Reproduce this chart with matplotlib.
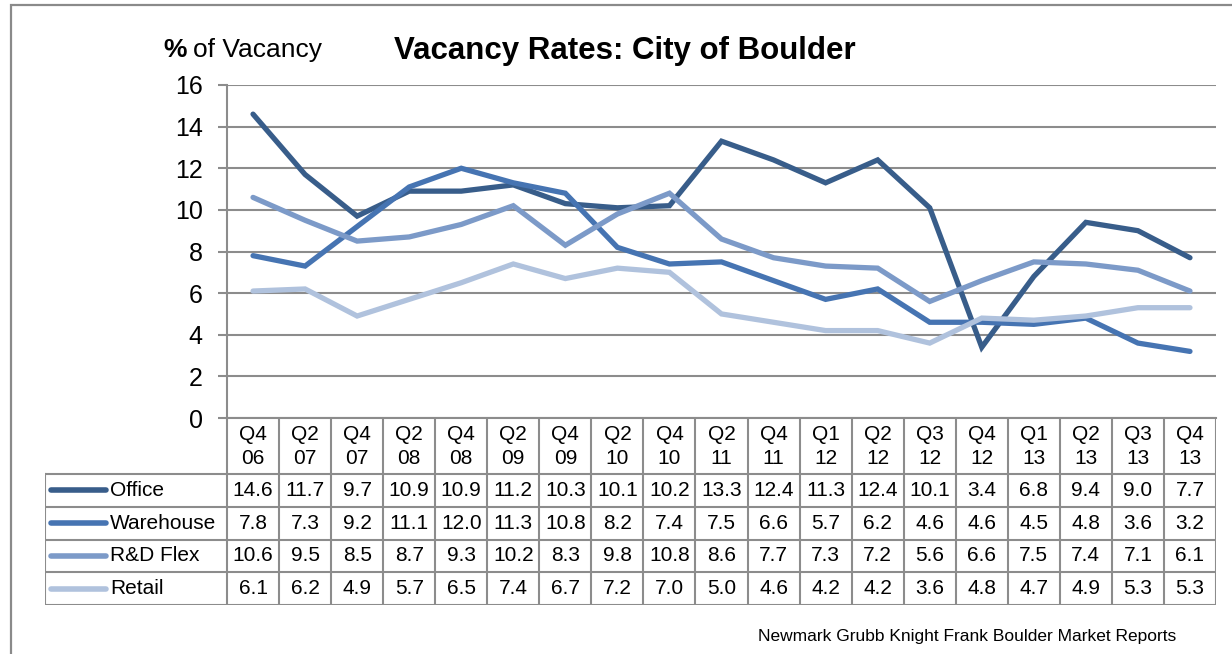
import matplotlib
matplotlib.use("Agg")
import matplotlib.pyplot as plt
from matplotlib.patches import Rectangle

plt.rcParams['font.family'] = ['Liberation Sans', 'DejaVu Sans']

quarters = ["Q4\n06", "Q2\n07", "Q4\n07", "Q2\n08", "Q4\n08", "Q2\n09", "Q4\n09", "Q2\n10",
            "Q4\n10", "Q2\n11", "Q4\n11", "Q1\n12", "Q2\n12", "Q3\n12", "Q4\n12", "Q1\n13",
            "Q2\n13", "Q3\n13", "Q4\n13"]
office    = [14.6, 11.7, 9.7, 10.9, 10.9, 11.2, 10.3, 10.1, 10.2, 13.3, 12.4, 11.3, 12.4, 10.1, 3.4, 6.8, 9.4, 9.0, 7.7]
warehouse = [7.8, 7.3, 9.2, 11.1, 12.0, 11.3, 10.8, 8.2, 7.4, 7.5, 6.6, 5.7, 6.2, 4.6, 4.6, 4.5, 4.8, 3.6, 3.2]
rd_flex   = [10.6, 9.5, 8.5, 8.7, 9.3, 10.2, 8.3, 9.8, 10.8, 8.6, 7.7, 7.3, 7.2, 5.6, 6.6, 7.5, 7.4, 7.1, 6.1]
retail    = [6.1, 6.2, 4.9, 5.7, 6.5, 7.4, 6.7, 7.2, 7.0, 5.0, 4.6, 4.2, 4.2, 3.6, 4.8, 4.7, 4.9, 5.3, 5.3]
series_names = ["Office", "Warehouse", "R&D Flex", "Retail"]
series_vals = [office, warehouse, rd_flex, retail]
colors = ["#385D8A", "#4674B2", "#7C9AC8", "#B0C2DD"]
yticks = [0, 2, 4, 6, 8, 10, 12, 14, 16]

W, H = 1232, 654
fig = plt.figure(figsize=(W / 100, H / 100), dpi=100)
grid_c = "#8C8C8C"

def fx(px):
    return px / W

def fy(py):
    return 1 - py / H

# outer frame (partially visible)
fig.patches.append(Rectangle((fx(11), fy(1000)), 2.0, fy(5) - fy(1000), transform=fig.transFigure,
                             fill=False, edgecolor="#8A8A8A", lw=1.6))

# main axes
L, R, T, B = 227, 1216, 85, 418
ax = fig.add_axes([fx(L), fy(B), fx(R) - fx(L), fy(T) - fy(B)])
n = len(quarters)
x = list(range(n))
for name, vals, c in zip(series_names, series_vals, colors):
    ax.plot(x, vals, color=c, lw=3.8, solid_capstyle='round', solid_joinstyle='miter', zorder=3)
ax.set_xlim(-0.5, n - 0.5)
ax.set_ylim(0, 16)
ax.set_yticks(yticks)
ax.set_yticklabels([str(v) for v in yticks], fontsize=18)
ax.set_xticks([])
ax.grid(axis='y', color=grid_c, lw=1.5, zorder=1)
for s in ["top", "right"]:
    ax.spines[s].set_visible(False)
for s in ["left", "bottom"]:
    ax.spines[s].set_color(grid_c)
    ax.spines[s].set_linewidth(1.5)
ax.tick_params(axis='y', length=6.5, width=1.5, color=grid_c, pad=11)

# table axes
TL = 45
TB = 605
tax = fig.add_axes([fx(TL), fy(TB), fx(R) - fx(TL), fy(B) - fy(TB)])
col_w = (R - L) / n
left_units = -0.5 - (L - TL) / col_w
tax.set_xlim(left_units, n - 0.5)
tax.set_ylim(TB - B, 0)
tax.axis('off')
hdr = 56
row_h = (TB - B - hdr) / 4
lc = dict(color=grid_c, lw=1.5)
for k in range(n + 1):
    tax.plot([-0.5 + k, -0.5 + k], [0, TB - B], **lc)
tax.plot([left_units, left_units], [hdr, TB - B], **lc)
for r in range(5):
    yy = hdr + r * row_h
    tax.plot([left_units, n - 0.5], [yy, yy], **lc)
for i, q in enumerate(quarters):
    top, bot = q.split("\n")
    tax.text(i, 16, top, ha='center', va='center', fontsize=15)
    tax.text(i, 40, bot, ha='center', va='center', fontsize=15)
for r, (name, vals, c) in enumerate(zip(series_names, series_vals, colors)):
    yc = hdr + (r + 0.5) * row_h
    x0 = left_units + 6 / col_w
    x1 = left_units + 61 / col_w
    tax.plot([x0, x1], [yc, yc], color=c, lw=4, solid_capstyle='round')
    tax.text(left_units + 65 / col_w, yc, name, ha='left', va='center', fontsize=15)
    for i, v in enumerate(vals):
        tax.text(i, yc, f"{v:.1f}", ha='center', va='center', fontsize=15)

# titles
fig.text(fx(625), fy(59), "Vacancy Rates: City of Boulder", ha='center', va='baseline',
         fontsize=22.5, fontweight='bold')
fig.text(fx(163), fy(57), "%", ha='left', va='baseline', fontsize=19, fontweight='bold')
fig.text(fx(193), fy(57), "of Vacancy", ha='left', va='baseline', fontsize=19)
fig.text(fx(1176), fy(637), "Newmark Grubb Knight Frank Boulder Market Reports", ha='right',
         va='center', fontsize=12.5)

fig.savefig("out.png", dpi=100)
